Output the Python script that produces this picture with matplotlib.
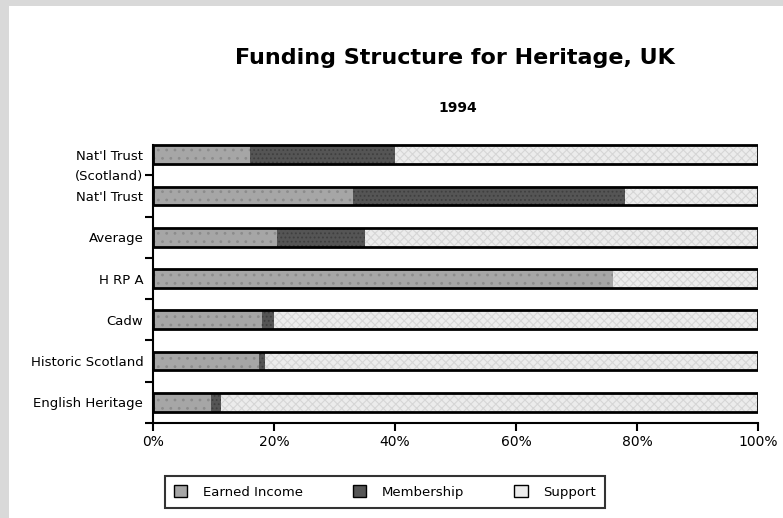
import numpy as np
import matplotlib.pyplot as plt
from matplotlib.patches import Patch, Rectangle

# data, bottom to top
bodies = ['English Heritage', 'Historic Scotland', 'Cadw', 'H RP A',
          'Average', "Nat'l Trust", "Nat'l Trust"]
earned = [9.6, 17.5, 18, 76, 20.5, 33, 16]
membership = [1.6, 1, 2, 0, 14.5, 45, 24]
support = [88.8, 81.5, 80, 24, 65, 22, 60]
xticks = [0, 20, 40, 60, 80, 100]

plt.rcParams['font.family'] = 'DejaVu Sans'
plt.rcParams['hatch.linewidth'] = 0.8

fig = plt.figure(figsize=(7.83, 5.18), dpi=100)
fig.patch.set_facecolor('#d9d9d9')
fig.patches.append(Rectangle((9/783, 0), 1, 1 - 6/518, transform=fig.transFigure,
                             facecolor='white', edgecolor='none', zorder=-10))

ax = fig.add_axes([153/783, 1 - 423/518, 605/783, 289/518])
ax.set_zorder(2)
ax.set_facecolor('none')

y = np.arange(len(bodies))
h = 0.45
earned = np.array(earned)
membership = np.array(membership)
support = np.array(support)

ax.barh(y, earned, height=h, color='#a6a6a6', edgecolor='#8c8c8c', hatch='..', lw=0)
ax.barh(y, membership, left=earned, height=h, color='#555555', edgecolor='#3f3f3f',
        hatch='....', lw=0)
ax.barh(y, support, left=earned + membership, height=h, color='#ececec',
        edgecolor='#d6d6d6', hatch='xxxx', lw=0)
ax.barh(y, earned + membership + support, height=h, fill=False, edgecolor='black', lw=2)

ax.set_xlim(0, 100)
ax.set_ylim(-0.5, len(bodies) - 0.5)
ax.set_xticks(xticks)
ax.set_xticklabels([f'{v}%' for v in xticks], fontsize=10)
ax.set_yticks(y)
ax.set_yticklabels(bodies, fontsize=9.5)
# boundary ticks; the second line of the top label sits on the last one
minor = np.arange(-0.5, len(bodies) - 1, 1)
ax.set_yticks(minor, minor=True)
ax.set_yticklabels([''] * (len(minor) - 1) + ['(Scotland)'], minor=True, fontsize=9.5)
ax.tick_params(axis='y', which='major', length=0, pad=7)
ax.tick_params(axis='y', which='minor', length=6, width=1.5, pad=1)
ax.tick_params(axis='x', length=6, width=1.5, pad=3)
for s in ['top', 'right']:
    ax.spines[s].set_visible(False)
for s in ['left', 'bottom']:
    ax.spines[s].set_linewidth(1.5)
ax.spines['left'].set_bounds(-0.5, len(bodies) - 1 + h / 2)

fig.text(455/783, 1 - 58/518, 'Funding Structure for Heritage, UK', ha='center',
         va='center', fontsize=16, fontweight='bold')
fig.text(458/783, 1 - 108/518, '1994', ha='center', va='center', fontsize=10,
         fontweight='bold')

handles = [Patch(facecolor='#a6a6a6', edgecolor='black', label='Earned Income'),
           Patch(facecolor='#555555', edgecolor='black', label='Membership'),
           Patch(facecolor='#ececec', edgecolor='black', label='Support')]
leg = fig.legend(handles=handles, loc='center', bbox_to_anchor=(385/783, 1 - 492/518),
                 ncol=3, fontsize=9.5, frameon=True, fancybox=False, handlelength=1,
                 handleheight=1, handletextpad=1.2, columnspacing=3.8,
                 edgecolor='black', borderpad=0.7)
leg.get_frame().set_linewidth(1.5)

fig.savefig('out.png', dpi=100)
